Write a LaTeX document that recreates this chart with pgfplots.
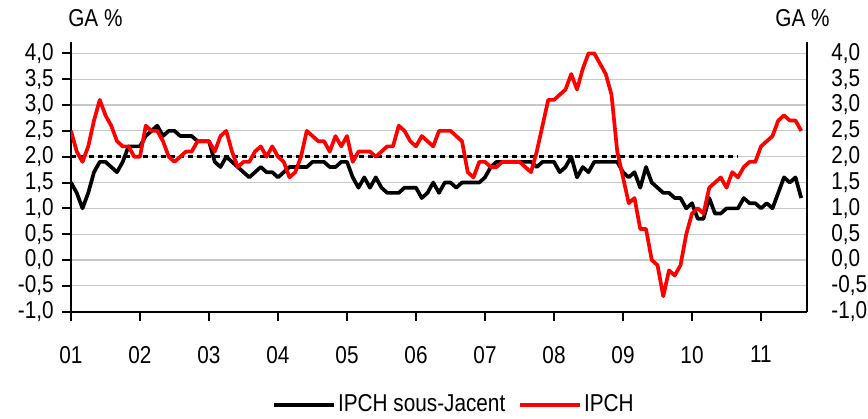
\documentclass[border=0pt]{standalone}
\usepackage{fontspec}
\setmainfont{Liberation Sans}[FakeStretch=0.85]
\usepackage{pgfplots}
\pgfplotsset{compat=1.18}
\usepackage{pgfplotstable}
\definecolor{gridgray}{RGB}{200,200,200}

\pgfplotstableread{
m v
0 1.5
1 1.3
2 1.0
3 1.3
4 1.7
5 1.9
6 1.9
7 1.8
8 1.7
9 1.9
10 2.2
11 2.2
12 2.2
13 2.4
14 2.5
15 2.6
16 2.4
17 2.5
18 2.5
19 2.4
20 2.4
21 2.4
22 2.3
23 2.3
24 2.3
25 1.9
26 1.8
27 2.0
28 1.9
29 1.8
30 1.7
31 1.6
32 1.7
33 1.8
34 1.7
35 1.7
36 1.6
37 1.7
38 1.8
39 1.8
40 1.8
41 1.8
42 1.9
43 1.9
44 1.9
45 1.8
46 1.8
47 1.9
48 1.9
49 1.6
50 1.4
51 1.6
52 1.4
53 1.6
54 1.4
55 1.3
56 1.3
57 1.3
58 1.4
59 1.4
60 1.4
61 1.2
62 1.3
63 1.5
64 1.3
65 1.5
66 1.5
67 1.4
68 1.5
69 1.5
70 1.5
71 1.5
72 1.6
73 1.8
74 1.9
75 1.9
76 1.9
77 1.9
78 1.9
79 1.9
80 1.9
81 1.8
82 1.9
83 1.9
84 1.9
85 1.7
86 1.8
87 2.0
88 1.6
89 1.8
90 1.7
91 1.9
92 1.9
93 1.9
94 1.9
95 1.9
96 1.7
97 1.6
98 1.7
99 1.4
100 1.8
101 1.5
102 1.4
103 1.3
104 1.3
105 1.2
106 1.2
107 1.0
108 1.1
109 0.8
110 0.8
111 1.2
112 0.9
113 0.9
114 1.0
115 1.0
116 1.0
117 1.2
118 1.1
119 1.1
120 1.0
121 1.1
122 1.0
123 1.3
124 1.6
125 1.5
126 1.6
127 1.2
}\core

\pgfplotstableread{
m v
0 2.5
1 2.1
2 1.9
3 2.2
4 2.7
5 3.1
6 2.8
7 2.6
8 2.3
9 2.2
10 2.2
11 2.0
12 2.0
13 2.6
14 2.5
15 2.5
16 2.3
17 2.0
18 1.9
19 2.0
20 2.1
21 2.1
22 2.3
23 2.3
24 2.3
25 2.1
26 2.4
27 2.5
28 2.1
29 1.8
30 1.9
31 1.9
32 2.1
33 2.2
34 2.0
35 2.2
36 2.0
37 1.9
38 1.6
39 1.7
40 2.0
41 2.5
42 2.4
43 2.3
44 2.3
45 2.1
46 2.4
47 2.2
48 2.4
49 1.9
50 2.1
51 2.1
52 2.1
53 2.0
54 2.1
55 2.2
56 2.2
57 2.6
58 2.5
59 2.3
60 2.2
61 2.4
62 2.3
63 2.2
64 2.5
65 2.5
66 2.5
67 2.4
68 2.3
69 1.7
70 1.6
71 1.9
72 1.9
73 1.8
74 1.8
75 1.9
76 1.9
77 1.9
78 1.9
79 1.8
80 1.7
81 2.1
82 2.6
83 3.1
84 3.1
85 3.2
86 3.3
87 3.6
88 3.3
89 3.7
90 4.0
91 4.0
92 3.8
93 3.6
94 3.2
95 2.1
96 1.6
97 1.1
98 1.2
99 0.6
100 0.6
101 0.0
102 -0.1
103 -0.7
104 -0.2
105 -0.3
106 -0.1
107 0.5
108 0.9
109 1.0
110 0.9
111 1.4
112 1.5
113 1.6
114 1.4
115 1.7
116 1.6
117 1.8
118 1.9
119 1.9
120 2.2
121 2.3
122 2.4
123 2.7
124 2.8
125 2.7
126 2.7
127 2.5
}\hicp

\begin{document}
\fontsize{24.5}{28}\selectfont
\begin{tikzpicture}
\begin{axis}[
  scale only axis, width=736bp, height=269.7bp,
  xmin=0, xmax=128, ymin=-1, ymax=4.22,
  axis lines*=left,
  axis line style={line width=2bp, black},
  xtick={0,12,...,120},
  xticklabels={01,02,03,04,05,06,07,08,09,10,11},
  ytick={-1,-0.5,...,4},
  tick align=outside, major tick length=9bp,
  tick style={line width=2bp, black},
  ymajorgrids, grid style={line width=1.2bp, gridgray},
  yticklabel style={/pgf/number format/.cd, use comma, fixed, fixed zerofill, precision=1, assume math mode=true},
  xticklabel style={yshift=-17bp},
  legend columns=2,
  legend style={at={(0.5,0)}, anchor=center, yshift=-93bp, xshift=15bp, draw=none, fill=none,
    /tikz/every even column/.append style={column sep=11bp}},
  legend image code/.code={\draw[#1] (0bp,0bp) -- (60bp,0bp);},
  line join=round,
]
\addplot[black, line width=3bp, dash pattern=on 4.5bp off 4.5bp, forget plot] coordinates {(0,2) (116,2)};
\addplot[black, line width=3.7bp] table[x=m, y=v] {\core};
\addlegendentry{IPCH sous-Jacent}
\addplot[red, line width=3.7bp] table[x=m, y=v] {\hicp};
\addlegendentry{IPCH}
\end{axis}
\begin{axis}[
  scale only axis, width=736bp, height=269.7bp,
  xmin=0, xmax=128, ymin=-1, ymax=4.22,
  axis x line=none, axis y line*=right,
  axis line style={line width=2bp, black},
  ytick={-1,-0.5,...,4},
  major tick length=0bp,
  yticklabel style={anchor=west, xshift=16bp, /pgf/number format/.cd, use comma, fixed, fixed zerofill, precision=1, assume math mode=true},
]
\end{axis}
\node[anchor=base west] at (-11bp,285bp) {GA \%};
\node[anchor=base east] at (767bp,285bp) {GA \%};
\pgfresetboundingbox
\useasboundingbox (-71bp,-107.3bp) rectangle (797bp,311.7bp);
\end{tikzpicture}
\end{document}
